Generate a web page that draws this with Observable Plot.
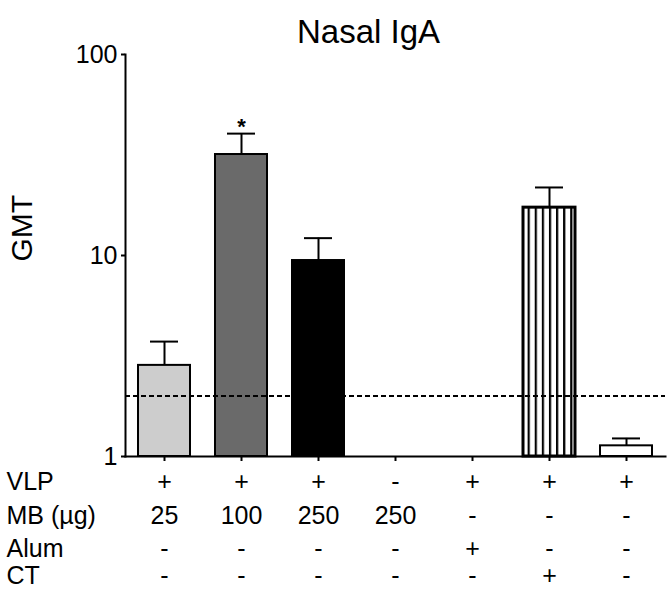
<!DOCTYPE html>
<html><head><meta charset="utf-8">
<script src="https://cdn.jsdelivr.net/npm/d3@7"></script>
<script src="https://cdn.jsdelivr.net/npm/@observablehq/plot@0.6"></script>
<style>body{margin:0;background:#fff;}</style>
</head><body><div id="chart"></div>
<script>
const groups = ["G1","G2","G3","G4","G5","G6","G7"];
const gmt   = [2.84, 31.8, 9.44, null, null, 17.3, 1.13];
const upper = [3.73, 40.4, 12.2, null, null, 21.8, 1.23];
const signif = ["", "*", "", "", "", "", ""];
const vlp  = ["+","+","+","-","+","+","+"];
const mb   = ["25","100","250","250","-","-","-"];
const alum = ["-","-","-","-","+","-","-"];
const ct   = ["-","-","-","-","-","+","-"];
const rowLabels = ["VLP","MB (µg)","Alum","CT"];
const cutoff = [2];
const yTicks = [1,10,100];
const title = "Nasal IgA";
const yLabel = "GMT";

// styles (kept separate from data)
const fills = ["#cdcdcd","#6a6a6a","#000000","#ffffff","#ffffff","url(#vstripes)","#ffffff"];
const strokeWidths = [2,2,2,2,2,3,2];
const rowDy = [33, 67, 100, 127];

const data = groups.map((g,i)=>({group:g, gmt:gmt[i], upper:upper[i], sig:signif[i],
  vlp:vlp[i], mb:mb[i], alum:alum[i], ct:ct[i]}));
const bars = data.filter(d => d.gmt != null);
const rowKeys = ["vlp","mb","alum","ct"];

const rowMarks = [];
rowKeys.forEach((k,i) => {
  rowMarks.push(Plot.text(data, {x:"group", text:k, frameAnchor:"bottom", dy:rowDy[i], fontSize:25}));
  rowMarks.push(Plot.text([rowLabels[i]], {text:d=>d, frameAnchor:"bottom-left", textAnchor:"start", dx:-119, dy:rowDy[i], fontSize:25}));
});

const barMarks = [...new Set(strokeWidths)].map(sw =>
  Plot.barY(bars.filter(d => strokeWidths[groups.indexOf(d.group)] === sw),
    {x:"group", y1: () => 1, y2:"gmt", fill:"group", stroke:"black", strokeWidth:sw}));

const plot = Plot.plot({
  width: 672, height: 599,
  marginTop: 54, marginBottom: 143, marginLeft: 125, marginRight: 7,
  style: {fontFamily: "'Liberation Sans', Arial, sans-serif", background: "white", color: "black"},
  x: {domain: groups, paddingInner: 0.33, paddingOuter: 0.16, axis: null},
  y: {type: "log", domain: [1, 100], axis: null},
  color: {domain: groups, range: fills},
  marks: [
    ...barMarks,
    Plot.ruleX(bars, {x:"group", y1:"gmt", y2:"upper", strokeWidth:2}),
    Plot.tickY(bars, {x:"group", y:"upper", insetLeft:12, insetRight:12, strokeWidth:2}),
    Plot.ruleY(cutoff, {strokeDasharray:"5,3", strokeWidth:2}),
    Plot.frame({anchor:"bottom", strokeWidth:2}),
    Plot.frame({anchor:"left", strokeWidth:2}),
    Plot.axisY({ticks: yTicks, tickFormat: d => String(d), fontSize:25, tickSize:4, tickPadding:4, strokeWidth:2, label:null}),
    Plot.axisX({tickSize:5, tickFormat: () => "", strokeWidth:2, label:null}),
    Plot.text(bars.filter(d => d.sig), {x:"group", y:"upper", text:"sig", dy:-7, fontSize:22, fontWeight:"bold"}),
    Plot.text([title], {text:d=>d, frameAnchor:"top", dx:-27, dy:-35, fontSize:33}),
    Plot.text([yLabel], {text:d=>d, frameAnchor:"left", rotate:-90, dx:-103, dy:6, fontSize:30}),
    ...rowMarks
  ]
});

const xs = plot.scale("x");
const x0 = xs.apply("G6");
const period = 7.1;
const svg = d3.select(plot);
const pat = svg.insert("defs", ":first-child").append("pattern")
  .attr("id","vstripes").attr("patternUnits","userSpaceOnUse")
  .attr("x", x0 + 4.6 - period).attr("y", 0).attr("width", period).attr("height", 10);
pat.append("rect").attr("width", period).attr("height", 10).attr("fill", "#fff");
pat.append("rect").attr("x", 0).attr("width", 2.2).attr("height", 10).attr("fill", "#000");

document.getElementById("chart").appendChild(plot);
</script>
</body></html>
